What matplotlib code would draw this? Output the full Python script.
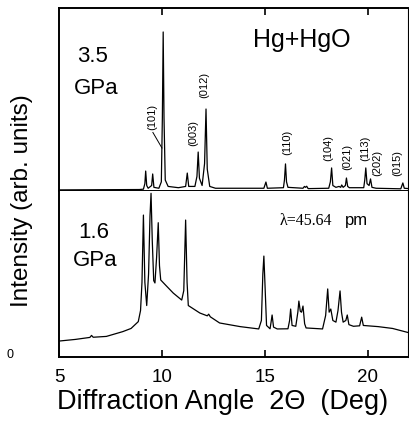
import matplotlib
matplotlib.use("Agg")
import matplotlib.pyplot as plt

# 3.5 GPa pattern (2theta, intensity)
top_x = [5.0, 8.9, 9.1, 9.17, 9.21, 9.26, 9.33, 9.5, 9.55, 9.61, 9.85, 9.97, 10.02, 10.06, 10.1,
         10.16, 10.3, 10.8, 11.15, 11.23, 11.3, 11.6, 11.7, 11.76, 11.82, 11.95, 12.07, 12.14, 12.2,
         12.32, 12.6, 14.95, 15.05, 15.12, 15.9, 15.95, 16.0, 16.05, 16.12, 16.85, 16.92, 16.97,
         17.03, 17.1, 18.1, 18.18, 18.24, 18.3, 18.45, 18.6, 18.68, 18.73, 18.8, 18.91, 18.96,
         19.02, 19.1, 19.8, 19.85, 19.9, 19.96, 20.06, 20.13, 20.2, 20.4, 21.6, 21.7, 21.77, 22.1]
top_y = [0.6, 0.8, 1.0, 4, 10.9, 3, 1.5, 3, 9.3, 2, 1.5, 5, 40, 86.9, 40,
         6, 2.5, 1.8, 2.5, 9.8, 2.5, 2.5, 8, 21.3, 7, 3, 15, 44.8, 12,
         2.5, 1.5, 1.5, 4.9, 1.5, 1.8, 6, 14.8, 5, 2, 1.5, 2.5, 2,
         2.6, 1.3, 1.5, 5, 12.6, 3, 2, 2.5, 2, 3.3, 2, 3, 7.1,
         2.5, 1.8, 1.8, 6, 12.6, 4, 3, 6.6, 2, 1.5, 1.2, 4.4, 1.5, 1.2]

# 1.6 GPa pattern
bot_x = [5.0, 5.8, 6.5, 6.58, 6.66, 7.3, 8.1, 8.5, 8.85, 8.96, 9.03, 9.1, 9.17, 9.26, 9.35, 9.42,
         9.47, 9.53, 9.6, 9.66, 9.74, 9.82, 9.88, 9.94, 10.2, 10.55, 10.96, 11.06, 11.15, 11.22,
         11.28, 11.84, 12.2, 12.27, 12.35, 12.8, 13.8, 14.7, 14.83, 14.9, 14.95, 15.0, 15.08,
         15.25, 15.3, 15.35, 15.42, 15.6, 16.12, 16.2, 16.25, 16.32, 16.5, 16.6, 16.65, 16.72,
         16.78, 16.85, 16.93, 17.0, 17.8, 17.95, 18.05, 18.12, 18.2, 18.3, 18.45, 18.55, 18.65,
         18.72, 18.8, 18.93, 19.0, 19.08, 19.3, 19.6, 19.7, 19.78, 20.5, 21.2, 22.0]
bot_y = [9.6, 10.6, 11.8, 13.0, 11.9, 12.4, 15.3, 17.2, 21.3, 28, 45, 85.5, 45, 31, 50, 85,
         98.6, 70, 46, 44.6, 60, 80.9, 55, 46.4, 43, 38.5, 34.3, 40, 82.5, 45,
         31, 26.5, 24.8, 25.8, 24.2, 20.5, 18.3, 16.9, 22, 50, 60.8, 45, 19,
         17, 21, 25.3, 18, 16.9, 17, 22, 28.9, 19, 18.5, 27, 33.7, 27.5,
         27, 30.7, 20, 17.5, 16.9, 25, 41, 27, 28.9, 22, 21, 28, 39.8,
         27, 21, 22, 25.3, 19.5, 18.5, 18.8, 24, 19, 18.3, 17.2, 14.6]

# Miller index labels: text, x, y (top panel data units)
hkl = ["(101)", "(003)", "(012)", "(110)", "(104)", "(021)", "(113)", "(202)", "(015)"]
hkl_x = [9.51, 11.5, 12.04, 16.07, 18.06, 18.98, 19.85, 20.44, 21.41]
hkl_y = [40.4, 31.7, 57.9, 26.8, 23.5, 18.6, 23.5, 15.3, 15.3]

xticks = [5, 10, 15, 20]

W, H = 409, 432
fig = plt.figure(figsize=(W / 100, H / 100), dpi=100)
plt.rcParams['font.family'] = ['Liberation Sans', 'DejaVu Sans']


def fx(px):
    return px / W


def fy(py):
    return 1 - py / H


left, right = fx(59), fx(408)
ax1 = fig.add_axes([left, fy(191), right - left, fy(8) - fy(191)])
ax2 = fig.add_axes([left, fy(357), right - left, fy(191) - fy(357)])

for ax in (ax1, ax2):
    ax.set_xlim(5, 21.95)
    ax.set_ylim(0, 100)
    ax.set_yticks([])
    for s in ax.spines.values():
        s.set_linewidth(1.4)
    ax.spines['right'].set_linewidth(0.8)

ax1.plot(top_x, top_y, color='black', lw=0.9)
ax2.plot(bot_x, bot_y, color='black', lw=0.9)

ax1.set_xticks([10, 15, 20])
ax1.tick_params(axis='x', direction='in', top=True, bottom=False, labelbottom=False,
                length=5, width=1.2)
ax2.spines['top'].set_visible(False)
ax2.set_xticks(xticks)
ax2.set_xticklabels([str(t) for t in xticks])
ax2.tick_params(axis='x', direction='in', length=5, width=1.2, labelsize=13.5, pad=9)

for t, x, y in zip(hkl, hkl_x, hkl_y):
    ax1.text(x, y, t, rotation=90, ha='center', va='center', fontsize=8)
ax1.plot([9.56, 10.0], [32, 23.5], color='black', lw=0.7)

fig.text(fx(77), fy(57), "3.5", fontsize=16, va='center', ha='left')
fig.text(fx(74), fy(88), "GPa", fontsize=16, va='center', ha='left')
fig.text(fx(78), fy(232), "1.6", fontsize=16, va='center', ha='left')
fig.text(fx(73), fy(261), "GPa", fontsize=16, va='center', ha='left')
fig.text(fx(253), fy(40), "Hg+HgO", fontsize=18, va='center', ha='left')
fig.text(fx(280), fy(221), "λ=45.64", fontsize=11.5, va='center', ha='left',
         family=['Liberation Serif', 'DejaVu Serif'])
fig.text(fx(345), fy(221), "pm", fontsize=12, va='center', ha='left')
fig.text(fx(10), fy(355), "0", fontsize=9, va='center', ha='center')
fig.text(fx(22), fy(307), "Intensity (arb. units)", fontsize=17.5, rotation=90,
         ha='center', va='bottom')
fig.text(fx(57), fy(409), "Diffraction Angle  2Θ  (Deg)", fontsize=19.5,
         ha='left', va='baseline')

fig.savefig("out.png", dpi=100)
